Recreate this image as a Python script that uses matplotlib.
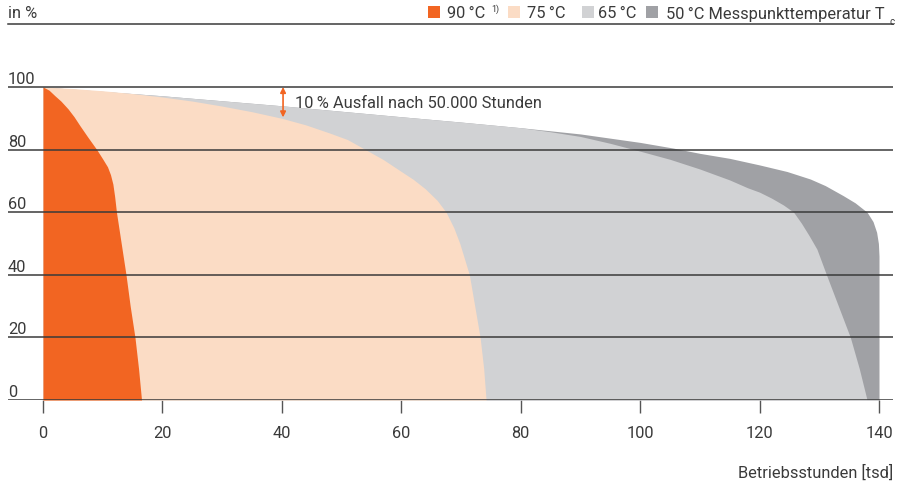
import matplotlib
matplotlib.use("Agg")
import matplotlib.pyplot as plt
from matplotlib.lines import Line2D
from matplotlib.patches import Rectangle

plt.rcParams['font.family'] = ['Roboto', 'DejaVu Sans']
plt.rcParams['font.weight'] = 'normal'

# ---- data ----
x_90 = [0, 1, 2, 3, 4.2, 5.2, 6.2, 7.5, 9, 10, 10.8, 11.3, 11.7, 12, 12.3, 13.1, 13.9, 14.6, 15.4, 16, 16.5]
y_90 = [100, 99, 97.2, 95.5, 93, 90.5, 87.6, 84, 80, 77, 74.5, 72, 69, 65, 60, 50, 40, 30, 20, 10, 0]

x_75 = [0, 5, 10, 15, 20, 25, 30, 35, 40, 44, 48, 51, 54, 57, 60, 62, 64, 66, 67.5,
        68.8, 69.8, 70.6, 71.4, 72.3, 73.2, 73.8, 74.2]
y_75 = [100, 99.5, 98.8, 97.9, 96.8, 95.5, 93.9, 92.1, 90, 87.9, 85.3, 83.2, 80, 76.8, 73, 70.5, 67.5, 63.8, 60,
        55, 50, 45, 40, 30, 20, 10, 0]

x_65 = [0, 20, 40, 60, 70, 80, 85, 90, 95, 100, 105, 110, 115, 118, 120, 122, 124, 125.7,
        127, 128.3, 129.6, 131.2, 133.2, 135.2, 136.7, 138]
y_65 = [100, 97.2, 94, 90.5, 88.8, 87, 85.7, 84.2, 82, 79.5, 76.9, 73.8, 70.3, 67.8, 66.4, 64.5, 62.3, 60,
        56.5, 52.5, 48.2, 40, 30, 20, 10, 0]

x_50 = [0, 20, 40, 60, 70, 80, 90, 100, 105.5, 110, 115, 120, 124.6, 128.5, 131, 134, 136, 138,
        139, 139.6, 139.9, 140, 140]
y_50 = [100, 97.2, 94, 90.5, 88.8, 87, 85, 82.3, 80.5, 78.8, 77.2, 75.1, 73, 70.6, 68.5, 65.3, 63, 60,
        57, 53.6, 50, 46, 0]

y_ticks = [0, 20, 40, 60, 80, 100]
x_ticks = [0, 20, 40, 60, 80, 100, 120, 140]

TS = "\u2009"
legend_labels = ["90" + TS + "°C", "75" + TS + "°C", "65" + TS + "°C",
                 "50" + TS + "°C Messpunkttemperatur T"]
c_90 = "#F26522"
c_75 = "#FBDCC5"
c_65 = "#D1D2D4"
c_50 = "#A0A1A5"
txt = "#3a3a3a"
line_c = "#3a3a3a"
FS = 11.8

W, H = 901, 485
fig = plt.figure(figsize=(W / 100, H / 100), dpi=100)

def fx(px):
    return px / W

def fy(py):
    return 1 - py / H

# axes geometry: x=0 -> px 43, x=140 -> px 879; y=0 -> py 401, y=100 -> py 88
sx = (879 - 43) / 140.0
sy = (401 - 88) / 100.0
ax_l, ax_r, ax_t, ax_b = 8, 893, 25, 401
ax = fig.add_axes([fx(ax_l), fy(ax_b), (ax_r - ax_l) / W, (ax_b - ax_t) / H])
ax.set_xlim(-(43 - ax_l) / sx, 140 + (ax_r - 879) / sx)
ax.set_ylim(0, (ax_b - ax_t) / sy)
for s in ax.spines.values():
    s.set_visible(False)
ax.set_yticks([])

ax.fill_between(x_50, y_50, 0, color=c_50, lw=0, zorder=1)
ax.fill_between(x_65, y_65, 0, color=c_65, lw=0, zorder=2)
ax.fill_between(x_75, y_75, 0, color=c_75, lw=0, zorder=3)
ax.fill_between(x_90, y_90, 0, color=c_90, lw=0, zorder=4)

for v in y_ticks:
    ax.axhline(v, color=line_c, lw=1.1, zorder=5)
    ax.annotate(str(v), xy=(0, v), xycoords=('axes fraction', 'data'),
                xytext=(0, 4), textcoords='offset pixels',
                ha='left', va='baseline', fontsize=FS, color=txt)

ax.set_xticks(x_ticks)
ax.set_xticklabels([str(t) for t in x_ticks])
ax.tick_params(axis='x', direction='out', length=9, width=1, color='#555555',
               labelsize=FS, labelcolor=txt, pad=9)

# annotation arrow
ax.annotate("", xy=(40.2, 100), xytext=(40.2, 90.3),
            arrowprops=dict(arrowstyle="<|-|>", color=c_90, lw=1.2,
                            mutation_scale=8, shrinkA=0, shrinkB=0), zorder=6)
ax.text(42.2, 95.2, "10" + TS + "% Ausfall nach 50.000 Stunden", fontsize=FS,
        color=txt, va='center', ha='left', zorder=6)

# header line
fig.add_artist(Line2D([fx(8), fx(893)], [fy(25), fy(25)], color=line_c, lw=1.1))
fig.text(fx(8), fy(14), "in %", fontsize=FS, color=txt, va='center', ha='left')

# legend
sq = 12
items = [(428, 447, c_90), (508, 527, c_75), (582, 598, c_65), (646, 666, c_50)]
for (sqx, tx, c), lab in zip(items, legend_labels):
    fig.add_artist(Rectangle((fx(sqx), fy(19)), sq / W, sq / H,
                             transform=fig.transFigure, color=c, lw=0))
    fig.text(fx(tx), fy(14), lab, fontsize=FS, color=txt, va='center', ha='left')
fig.text(fx(491), fy(9), "1)", fontsize=6.5, color=txt, va='center', ha='left')
fig.text(fx(889), fy(22), "c", fontsize=7, color=txt, va='center', ha='left')

fig.text(fx(893), fy(473), "Betriebsstunden [tsd]", fontsize=FS, color=txt,
         va='center', ha='right')

fig.savefig("out.png", dpi=100)
